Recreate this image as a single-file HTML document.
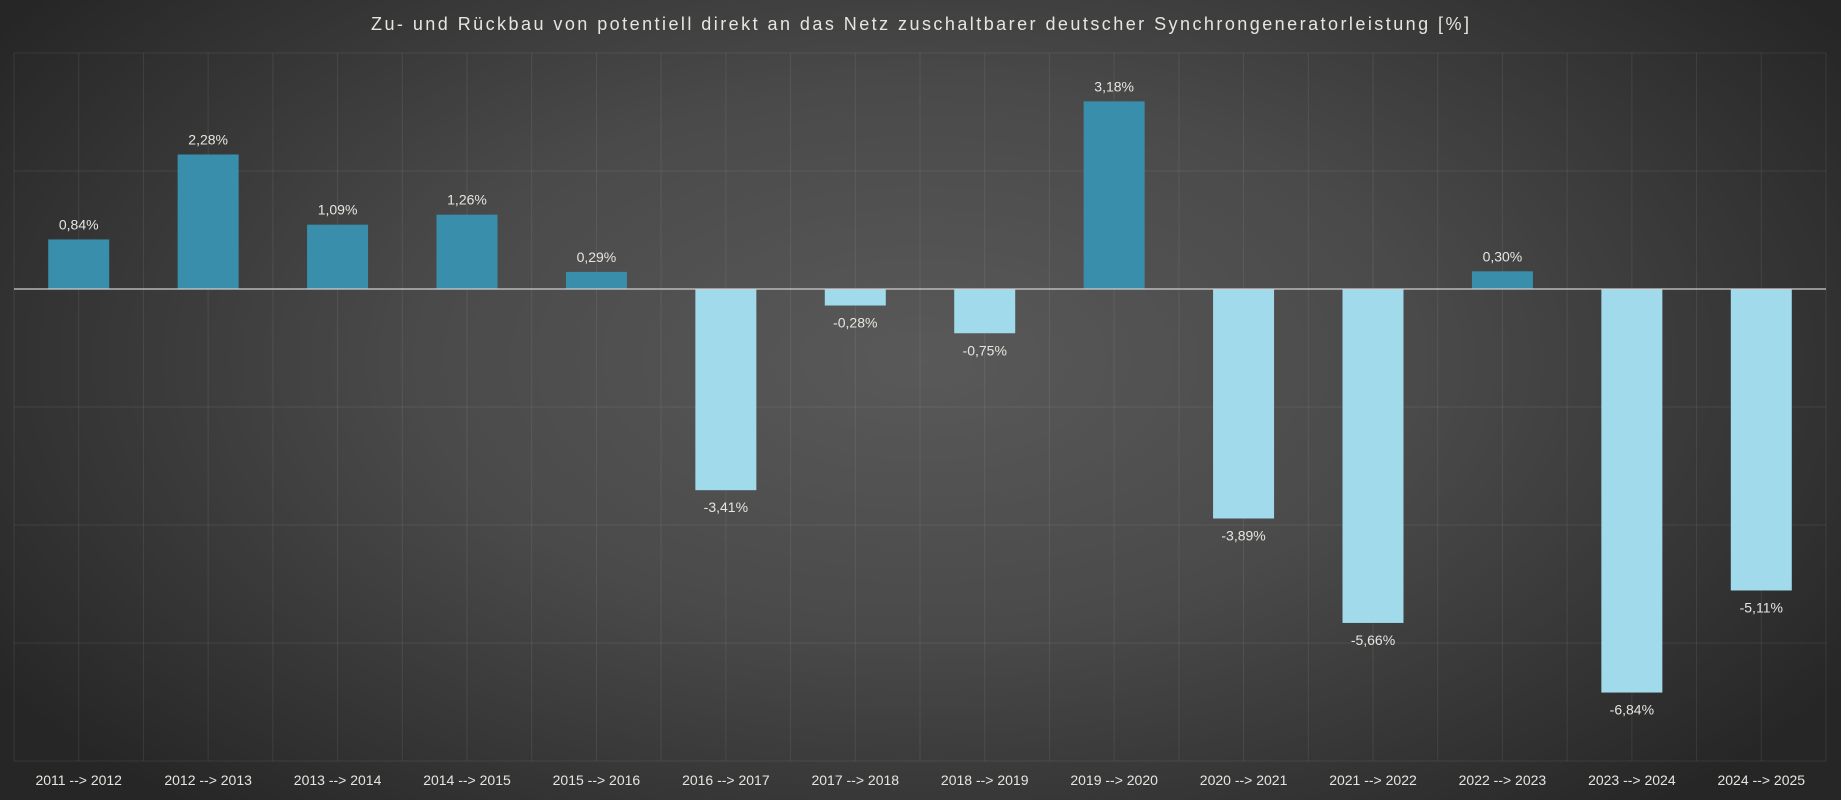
<!DOCTYPE html>
<html><head><meta charset="utf-8"><style>
html,body{margin:0;padding:0;width:1841px;height:800px;overflow:hidden}
body{background:radial-gradient(ellipse 60% 75% at 50% 45%,#595959 0%,#4a4a4a 45%,#303030 85%,#262626 100%)}
svg{position:absolute;left:0;top:0}
text{font-family:"Liberation Sans",sans-serif;fill:#e6e6e0}
</style></head><body>
<svg width="1841" height="800" xmlns="http://www.w3.org/2000/svg">
<text x="920" y="30" text-anchor="middle" font-size="18" textLength="1098" lengthAdjust="spacing" fill="#f2f2f2">Zu- und Rückbau von potentiell direkt an das Netz zuschaltbarer deutscher Synchrongeneratorleistung [%]</text>
<g id="grid" stroke="#ffffff" stroke-opacity="0.08" stroke-width="1"></g>
<g id="bars"></g>
<line x1="14" x2="1826" y1="289" y2="289" stroke="#cfcfcf" stroke-width="1.3"/>
</svg>
<script>
var ns="http://www.w3.org/2000/svg";
var g=document.getElementById('grid'),b=document.getElementById('bars');
function el(p,t,a,txt){var e=document.createElementNS(ns,t);for(var k in a)e.setAttribute(k,a[k]);if(txt)e.textContent=txt;p.appendChild(e);return e;}
var x0=14,x1=1826,n=14,cw=(x1-x0)/n,z=289,u=59;
for(var v=4;v>=-8;v-=2){if(v!=0)el(g,'line',{x1:x0,x2:x1,y1:z-v*u,y2:z-v*u});}
for(var i=0;i<=2*n;i++){var x=x0+i*cw/2;el(g,'line',{x1:x,x2:x,y1:53,y2:761});}
var vals=[0.84,2.28,1.09,1.26,0.29,-3.41,-0.28,-0.75,3.18,-3.89,-5.66,0.30,-6.84,-5.11];
for(var i=0;i<n;i++){
 var cx=x0+cw*(i+0.5),v=vals[i],h=Math.abs(v)*u;
 var lab=v.toFixed(2).replace('.',',')+'%';
 if(v>=0){el(b,'rect',{x:cx-30.5,y:z-h,width:61,height:h,fill:'#398fab'});
  el(b,'text',{x:cx,y:z-h-10,'text-anchor':'middle','font-size':14},lab);}
 else{el(b,'rect',{x:cx-30.5,y:z,width:61,height:h,fill:'#a0daeb'});
  el(b,'text',{x:cx,y:z+h+22,'text-anchor':'middle','font-size':14},lab);}
 el(b,'text',{x:cx,y:785,'text-anchor':'middle','font-size':14},(2011+i)+' --> '+(2012+i));
}
</script>
</body></html>
